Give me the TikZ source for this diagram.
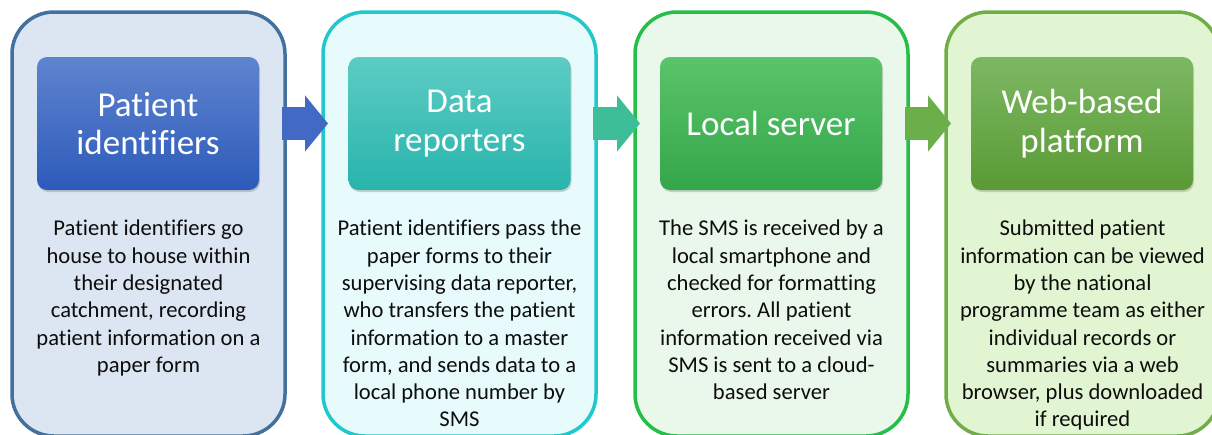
\documentclass[tikz,border=0pt]{standalone}
\usepackage{fontspec}
\setmainfont[Ligatures=NoCommon]{Carlito}
\frenchspacing
\usetikzlibrary{arrows.meta,shadows}
\definecolor{bluebg}{RGB}{220,230,242}
\definecolor{blueline}{RGB}{65,113,156}
\definecolor{bluetop}{RGB}{95,132,207}
\definecolor{bluebot}{RGB}{45,91,186}
\definecolor{bluearrow}{RGB}{66,106,196}
\definecolor{cyanbg}{RGB}{232,251,252}
\definecolor{cyanline}{RGB}{32,200,204}
\definecolor{cyantop}{RGB}{92,204,196}
\definecolor{cyanbot}{RGB}{40,180,172}
\definecolor{cyanarrow}{RGB}{62,190,152}
\definecolor{greenbg}{RGB}{234,248,236}
\definecolor{greenline}{RGB}{36,190,72}
\definecolor{greentop}{RGB}{90,196,106}
\definecolor{greenbot}{RGB}{52,166,74}
\definecolor{greenarrow}{RGB}{106,175,74}
\definecolor{olivebg}{RGB}{226,245,210}
\definecolor{oliveline}{RGB}{112,173,71}
\definecolor{olivetop}{RGB}{124,184,99}
\definecolor{olivebot}{RGB}{90,154,53}
\tikzset{
  outer/.style={rectangle,rounded corners=42pt,line width=3.5pt,minimum width=273pt,
    minimum height=424pt,outer sep=0pt},
  hdr/.style={rectangle,rounded corners=10pt,minimum width=222pt,minimum height=133pt,
    align=center,text=white,font=\fontsize{35}{38.7}\selectfont,
    drop shadow={opacity=0.35,shadow xshift=1pt,shadow yshift=-2pt}},
  body/.style={align=center,inner sep=0pt,font=\fontsize{22.6}{27.3}\selectfont,
    text=black!95,anchor=north},
  blockarrow/.style={line width=33pt,-{Triangle[length=23pt,width=55pt]},
    shorten <=-3pt,shorten >=-5pt}
}
\begin{document}
\begin{tikzpicture}[x=1pt,y=-1pt]
\useasboundingbox(0,0)rectangle(1212,434);
\clip(0,0)rectangle(1212,434);
%
\node[outer,draw=blueline,fill=bluebg](b1)at(148.5,224){};
\node[outer,draw=cyanline,fill=cyanbg](b2)at(459.5,224){};
\node[outer,draw=greenline,fill=greenbg](b3)at(771.5,224){};
\node[outer,draw=oliveline,fill=olivebg](b4)at(1082.5,224){};
%
\node[hdr,top color=bluetop,bottom color=bluebot](h1)at(148,123.5){Patient\\identifiers};
\node[hdr,top color=cyantop,bottom color=cyanbot](h2)at(459.5,123.5){Data\\reporters};
\node[hdr,top color=greentop,bottom color=greenbot](h3)at(771,123.5){Local server};
\node[hdr,top color=olivetop,bottom color=olivebot](h4)at(1082,123.5){Web-based\\platform};
%
\node[body](t1)at(148.5,220){Patient identifiers go\\house to house within\\their designated\\catchment, recording\\patient information on a\\paper form};
\node[body](t2)at(459.5,220){Patient identifiers pass the\\paper forms to their\\supervising data reporter,\\who transfers the patient\\information to a master\\form, and sends data to a\\local phone number by\\SMS};
\node[body](t3)at(771.5,220){The SMS is received by a\\local smartphone and\\checked for formatting\\errors. All patient\\information received via\\SMS is sent to a cloud-\\based server};
\node[body](t4)at(1082.5,220){Submitted patient\\information can be viewed\\by the national\\programme team as either\\individual records or\\summaries via a web\\browser, plus downloaded\\if required};
%
\draw[blockarrow,bluearrow](h1.east-|b1.east)--(h1.east-|b2.west);
\draw[blockarrow,cyanarrow](h2.east-|b2.east)--(h2.east-|b3.west);
\draw[blockarrow,greenarrow](h3.east-|b3.east)--(h3.east-|b4.west);
\end{tikzpicture}
\end{document}
